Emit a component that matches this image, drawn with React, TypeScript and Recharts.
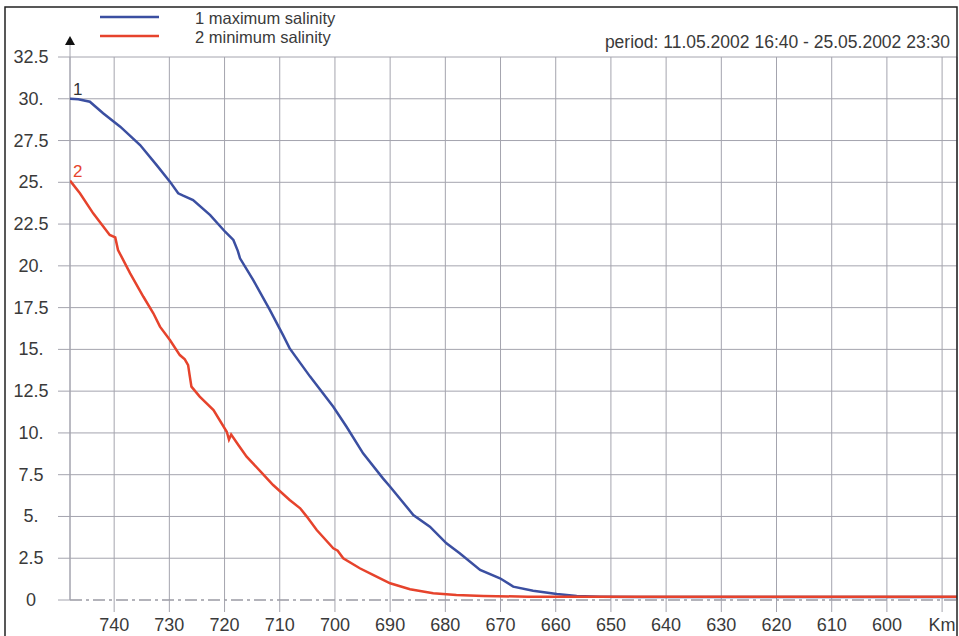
import React from "react";
import { LineChart, Line, XAxis, YAxis, CartesianGrid, ReferenceLine } from "recharts";

// river km (x) and salinity values
const maxKm = [748, 746.5, 744.4, 742, 738.9, 735.3, 732.3, 729.9, 728.4, 727.5, 725.7, 722.6, 719.9, 718.4, 717.6, 717.2, 714.8, 711.8, 709.4, 708.2, 704.5, 700.3, 697.9, 694.9, 691.3, 690, 685.8, 682.8, 679.8, 677.4, 673.7, 670.1, 667.7, 664.1, 659.8, 656.2, 652, 645, 620, 587.3];
const maxSal = [30.0, 29.97, 29.82, 29.13, 28.33, 27.23, 26.03, 25.04, 24.34, 24.2, 23.94, 23.04, 22.04, 21.55, 20.9, 20.45, 19.15, 17.36, 15.85, 15.06, 13.37, 11.57, 10.37, 8.78, 7.28, 6.78, 5.09, 4.39, 3.39, 2.8, 1.8, 1.3, 0.8, 0.56, 0.36, 0.24, 0.2, 0.18, 0.18, 0.18];

const minKm = [748, 746.2, 743.8, 740.8, 739.8, 739.3, 737.1, 734.7, 732.9, 731.7, 729.9, 728.1, 727.2, 726.6, 726.3, 726.0, 724.5, 722.0, 719.6, 719.2, 718.8, 717.5, 716.0, 713.5, 711.2, 708.2, 706.3, 705.1, 703.3, 700.3, 699.5, 698.5, 695.5, 693.1, 690.0, 686.4, 682.2, 678.0, 673.1, 665, 640, 587.3];
const minSal = [25.1, 24.34, 23.14, 21.85, 21.7, 20.95, 19.55, 18.15, 17.16, 16.36, 15.56, 14.66, 14.4, 14.06, 13.4, 12.77, 12.17, 11.37, 10.07, 9.6, 9.9, 9.28, 8.58, 7.7, 6.88, 5.99, 5.49, 4.99, 4.19, 3.09, 2.95, 2.5, 1.9, 1.5, 1.0, 0.64, 0.4, 0.3, 0.24, 0.2, 0.2, 0.2];

const xTicks = [740, 730, 720, 710, 700, 690, 680, 670, 660, 650, 640, 630, 620, 610, 600, 590];
const yTicks = [0, 2.5, 5, 7.5, 10, 12.5, 15, 17.5, 20, 22.5, 25, 27.5, 30, 32.5];

const legendItems = ["1 maximum salinity", "2 minimum salinity"];
const periodText = "period: 11.05.2002 16:40 - 25.05.2002 23:30";

const maxData = maxKm.map((km, i) => ({ km, sal: maxSal[i] }));
const minData = minKm.map((km, i) => ({ km, sal: minSal[i] }));

const FONT = "'Liberation Sans', Arial, sans-serif";
const GRID = "#a4a4ae";
const TEXT = "#3a3a3a";
const BLUE = "#3b4fa1";
const RED = "#e6432c";

const fmtY = (v: number) => (v === 0 ? "0" : Number.isInteger(v) ? `${v}.` : `${v}`);
const fmtX = (v: number) => (v === 590 ? "Km" : String(v));

const YTick = (props: any) => {
  const { y, payload } = props;
  return (
    <text x={31} y={y} dy={6} textAnchor="middle" fontSize={18} fill={TEXT} fontFamily={FONT}>
      {fmtY(payload.value)}
    </text>
  );
};

const startLabel = (text: string, color: string) => (props: any) => {
  if (props.index !== 0) return null;
  return (
    <text x={props.x + 3} y={props.y - 4} fontSize={17} fill={color} fontFamily={FONT}>
      {text}
    </text>
  );
};

export default function App() {
  return (
    <div style={{ position: "absolute", left: 0, top: 0, width: 959, height: 636, background: "#fff", overflow: "hidden" }}>
      <LineChart width={959} height={636} margin={{ top: 57, right: 2, bottom: 0, left: 0 }}>
        <CartesianGrid stroke={GRID} horizontalValues={yTicks.filter((v) => v > 0)} />
        <XAxis
          type="number"
          dataKey="km"
          domain={[587.3, 748]}
          reversed
          allowDataOverflow
          ticks={xTicks}
          tickFormatter={fmtX}
          height={36}
          tickSize={12}
          tickMargin={6}
          tickLine={{ stroke: GRID }}
          axisLine={false}
          tick={{ fontSize: 18, fill: TEXT, fontFamily: FONT }}
          interval={0}
        />
        <YAxis
          type="number"
          dataKey="sal"
          domain={[0, 32.5]}
          ticks={yTicks}
          width={70}
          tickSize={12}
          tickLine={{ stroke: GRID }}
          axisLine={false}
          tick={<YTick />}
          interval={0}
        />
        <ReferenceLine y={0} stroke="#9a9aa4" strokeWidth={1.5} strokeDasharray="12 4 3 4" />
        <ReferenceLine
          segment={[{ x: 748, y: 0 }, { x: 748, y: 33.3 }]}
          stroke={GRID}
          ifOverflow="visible"
        />
        <Line
          data={maxData}
          dataKey="sal"
          type="linear"
          stroke={BLUE}
          strokeWidth={2.5}
          dot={false}
          isAnimationActive={false}
          label={startLabel("1", "#333")}
        />
        <Line
          data={minData}
          dataKey="sal"
          type="linear"
          stroke={RED}
          strokeWidth={2.5}
          dot={false}
          isAnimationActive={false}
          label={startLabel("2", RED)}
        />
      </LineChart>
      <svg width={959} height={636} style={{ position: "absolute", left: 0, top: 0, pointerEvents: "none" }}>
        <rect x={5} y={7} width={952} height={660} fill="none" stroke="#222" strokeWidth={1.5} />
        <line x1={100} y1={17} x2={159} y2={17} stroke={BLUE} strokeWidth={2.5} />
        <line x1={100} y1={36} x2={159} y2={36} stroke={RED} strokeWidth={2.5} />
        <text x={195} y={24} fontSize={16.5} fill={TEXT} fontFamily={FONT}>{legendItems[0]}</text>
        <text x={195} y={43} fontSize={16.5} fill={TEXT} fontFamily={FONT}>{legendItems[1]}</text>
        <text x={950} y={48} fontSize={17.5} fill={TEXT} fontFamily={FONT} textAnchor="end">{periodText}</text>
        <polygon points="65,45 75,45 70,36" fill="#111" />
      </svg>
    </div>
  );
}
